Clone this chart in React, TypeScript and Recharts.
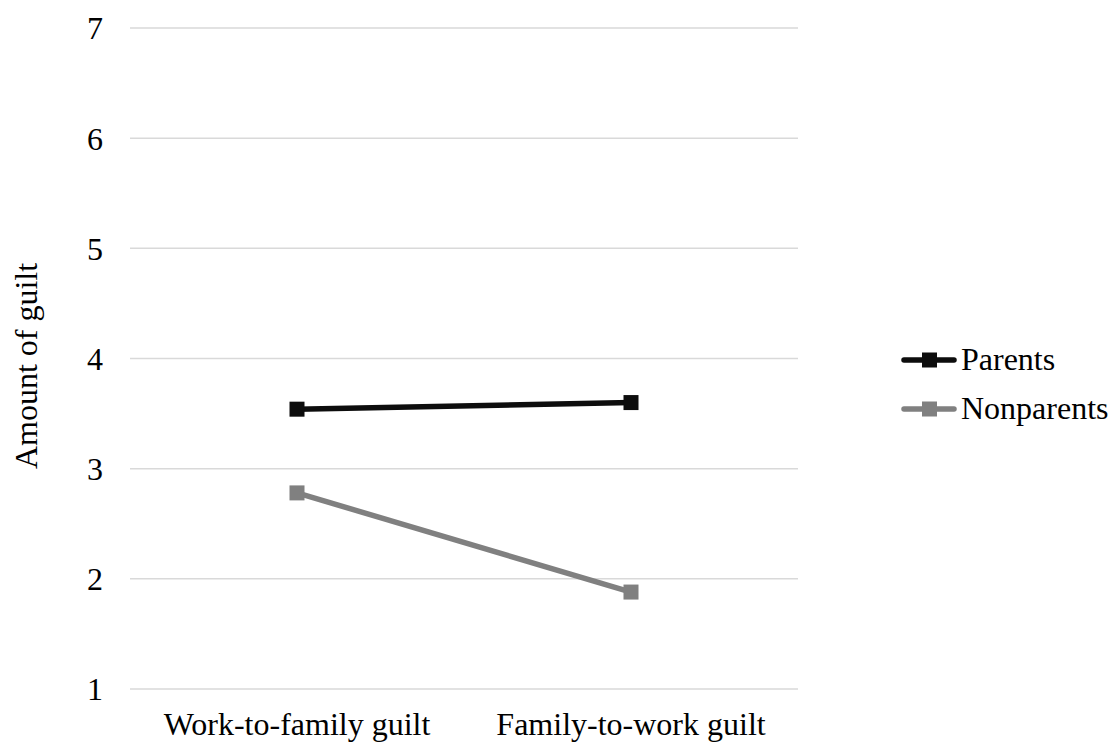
import { CartesianGrid, Label, Legend, Line, LineChart, XAxis, YAxis } from "recharts";

const categories = ["Work-to-family guilt", "Family-to-work guilt"];
const parents = [3.54, 3.6];
const nonparents = [2.78, 1.88];
const yTicks = [1, 2, 3, 4, 5, 6, 7];

const series = [
  { key: "parents", name: "Parents", color: "#0d0d0d" },
  { key: "nonparents", name: "Nonparents", color: "#808080" },
];

const data = categories.map((c, i) => ({
  name: c,
  parents: parents[i],
  nonparents: nonparents[i],
}));

const FONT = "'Liberation Serif', 'Times New Roman', serif";
const FS = 32;

const squareDot = (color: string) => (props: any) => {
  const { cx, cy, index } = props;
  if (cx == null || cy == null) return <g key={index} />;
  return <rect key={index} x={cx - 7.5} y={cy - 7.5} width={15} height={15} fill={color} />;
};

const YTitle = () => (
  <text
    x={37}
    y={366}
    transform="rotate(-90, 37, 366)"
    textAnchor="middle"
    fontFamily={FONT}
    fontSize={FS}
    fill="#000"
  >
    Amount of guilt
  </text>
);

const LegendContent = () => (
  <div style={{ fontFamily: FONT, fontSize: FS, color: "#000" }}>
    {series.map((s) => (
      <div key={s.key} style={{ display: "flex", alignItems: "center", height: 49 }}>
        <svg width={56} height={20} style={{ marginRight: 4, flex: "none" }}>
          <line x1={3} y1={10} x2={53} y2={10} stroke={s.color} strokeWidth={5.5} strokeLinecap="round" />
          <rect x={21} y={2.5} width={15} height={15} fill={s.color} />
        </svg>
        <span style={{ lineHeight: "49px", whiteSpace: "nowrap" }}>{s.name}</span>
      </div>
    ))}
  </div>
);

export default function App() {
  return (
    <div style={{ position: "absolute", left: 0, top: 0, background: "#fff" }}>
      <LineChart
        width={1109}
        height={742}
        data={data}
        margin={{ top: 28, right: 311, bottom: 0, left: 0 }}
      >
        <CartesianGrid vertical={false} stroke="#d9d9d9" strokeWidth={1.5} />
        <XAxis
          dataKey="name"
          axisLine={false}
          tickLine={false}
          tickSize={0}
          tickMargin={23}
          height={53}
          interval={0}
          padding={{ left: 167, right: 167 }}
          tick={{ fontFamily: FONT, fontSize: FS, fill: "#000" }}
        />
        <YAxis
          domain={[1, 7]}
          ticks={yTicks}
          interval={0}
          width={130}
          axisLine={false}
          tickLine={false}
          tickSize={0}
          tickMargin={27}
          tick={{ fontFamily: FONT, fontSize: FS, fill: "#000" }}
        >
          <Label content={<YTitle />} />
        </YAxis>
        {series.map((s) => (
          <Line
            key={s.key}
            dataKey={s.key}
            name={s.name}
            stroke={s.color}
            strokeWidth={5.5}
            type="linear"
            dot={squareDot(s.color)}
            activeDot={false}
            isAnimationActive={false}
          />
        ))}
        <Legend
          layout="horizontal"
          align="center"
          verticalAlign="middle"
          content={<LegendContent />}
          wrapperStyle={{ left: 901, top: 335, width: 208 }}
        />
      </LineChart>
    </div>
  );
}
